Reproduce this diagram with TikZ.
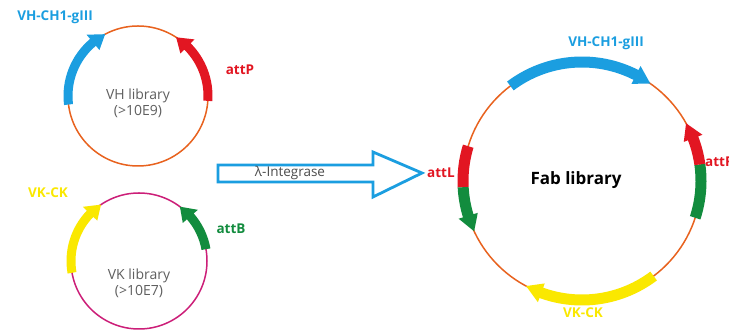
\documentclass[tikz,border=0pt]{standalone}
\usepackage{fontspec}
\setmainfont{Open Sans}
\definecolor{cblue}{RGB}{27,158,224}
\definecolor{cred}{RGB}{226,22,34}
\definecolor{cgreen}{RGB}{18,140,62}
\definecolor{cyellow}{RGB}{250,232,0}
\definecolor{corange}{RGB}{232,98,30}
\definecolor{cmag}{RGB}{204,30,120}
\definecolor{cgray}{RGB}{95,95,95}
% arc arrow: #1 color, #2 radius, #3 width, #4 start, #5 end, #6 head angle, #7 head half width
\newcommand{\arcarrow}[7]{%
  \pgfmathsetmacro{\cA}{#5-sign(#5-#4)*#6}%
  \fill[#1] (#4:#2+#3/2) arc[start angle=#4, end angle=\cA, radius=#2+#3/2]
     -- (\cA:#2+#7) -- (#5:#2) -- (\cA:#2-#7) -- (\cA:#2-#3/2)
     arc[start angle=\cA, end angle=#4, radius=#2-#3/2] -- cycle;}
\newcommand{\arcband}[5]{%
  \fill[#1] (#4:#2+#3/2) arc[start angle=#4, end angle=#5, radius=#2+#3/2]
     -- (#5:#2-#3/2) arc[start angle=#5, end angle=#4, radius=#2-#3/2] -- cycle;}
\begin{document}
\begin{tikzpicture}[x=1pt,y=1pt,
  lbl/.style={font=\fontsize{13.5}{13.5}\selectfont\bfseries},
  libtxt/.style={font=\fontsize{14}{16}\selectfont, text=cgray, align=center},
  ring/.style={line width=1.5pt}]
\useasboundingbox (0,0) rectangle (729,331);
\fill[white] (0,0) rectangle (729,331);
% VH plasmid
\node[circle, minimum size=140pt, inner sep=0pt] (vh) at (138,235) {};
\draw[ring, corange] (vh.center) circle[radius=70];
\begin{scope}[shift={(vh.center)}]
  \arcarrow{cblue}{70}{9}{187}{118}{12}{10}
  \arcarrow{cred}{70}{9}{-4}{57}{12}{10}
\end{scope}
\node[libtxt] (vhtxt) at ([yshift=-7pt]vh.center) {VH library\\(>10E9)};
\node[lbl, text=cblue] (vhlab) at (55,314) {VH-CH1-gIII};
\node[lbl, text=cred] (attp) at (240,261) {attP};
% VK plasmid
\node[circle, minimum size=136pt, inner sep=0pt] (vk) at (139,70) {};
\draw[ring, cmag] (vk.center) circle[radius=68];
\begin{scope}[shift={(vk.center)}]
  \arcarrow{cyellow}{68}{9}{190}{124}{12}{10}
  \arcarrow{cgreen}{68}{9}{10}{53}{12}{10}
\end{scope}
\node[libtxt] (vktxt) at ([yshift=-22pt]vk.center) {VK library\\(>10E7)};
\node[lbl, text=cyellow] (vklab) at (48,138) {VK-CK};
\node[lbl, text=cgreen] (attb) at (231,102) {attB};
% big arrow
\draw[cblue, line width=2.8pt, fill=white, line join=miter]
  (218,149) -- (373,149) -- (373,134) -- (422,158) -- (373,179) -- (373,166) -- (218,166) -- cycle;
\node[font=\fontsize{13.5}{13.5}\selectfont, text=cgray!80!black] (integ) at (290,158) {λ-Integrase};
% Fab plasmid
\node[circle, minimum size=238pt, inner sep=0pt] (fab) at (582,150) {};
\draw[ring, corange] (fab.center) circle[radius=119];
\begin{scope}[shift={(fab.center)}]
  \arcarrow{cblue}{119}{11}{127}{55}{8}{10}
  \arcband{cgreen}{119}{11}{8}{-18}
  \arcarrow{cred}{119}{11}{8}{29}{8}{10}
  \arcband{cred}{119}{11}{163}{183}
  \arcarrow{cgreen}{119}{11}{183}{205}{8}{10}
  \arcarrow{cyellow}{119}{11}{-53}{-118}{8}{10}
\end{scope}
\node[font=\fontsize{17}{17}\selectfont\bfseries] (fabtxt) at (576,151) {Fab library};
\node[lbl, text=cblue] (fabvh) at (606,288) {VH-CH1-gIII};
\node[lbl, text=cred, anchor=west, inner sep=0pt] (attr) at (705,169) {attR};
\node[lbl, text=cred, anchor=west, inner sep=0pt] (attl) at (427,158) {attL};
\node[lbl, text=cyellow] (fabvk) at (583,18) {VK-CK};
\end{tikzpicture}
\end{document}
